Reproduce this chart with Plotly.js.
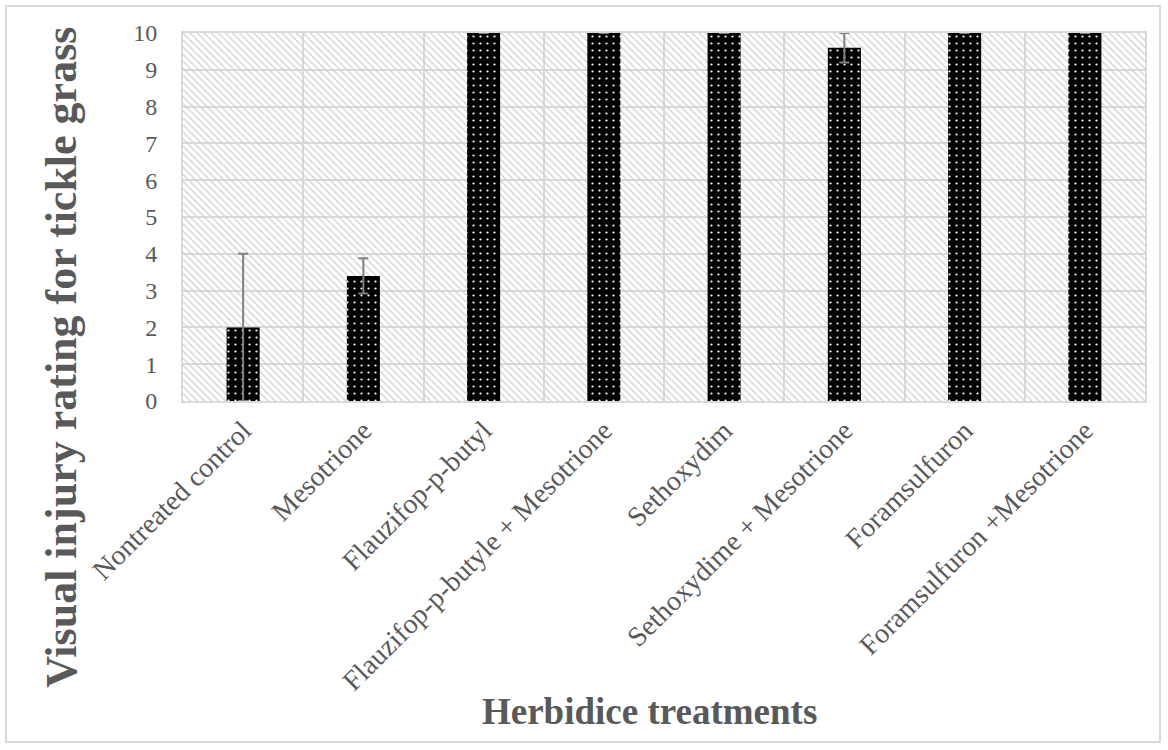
<!DOCTYPE html>
<html>
<head>
<meta charset="utf-8">
<script src="https://cdn.plot.ly/plotly-3.0.1.min.js"></script>
<style>
html,body{margin:0;padding:0;background:#fff;}
#frame{position:absolute;left:5px;top:5px;width:1156px;height:738px;border:2px solid #d9d9d9;box-sizing:border-box;}
#chart{position:absolute;left:0;top:0;width:1168px;height:750px;}
</style>
</head>
<body>
<div id="frame"></div>
<div id="chart"></div>
<script>
const categories = ["Nontreated control", "Mesotrione", "Flauzifop-p-butyl", "Flauzifop-p-butyle + Mesotrione", "Sethoxydim", "Sethoxydime + Mesotrione", "Foramsulfuron", "Foramsulfuron +Mesotrione"];
const ratings = [2, 3.4, 10, 10, 10, 9.6, 10, 10];
const errors = [2, 0.48, 0, 0, 0, 0.4, 0, 0];
const yTicks = [0, 1, 2, 3, 4, 5, 6, 7, 8, 9, 10];
const yMax = 10;

const background = {
  type: 'bar',
  x: categories,
  y: categories.map(() => yMax),
  width: 1,
  hoverinfo: 'skip',
  showlegend: false,
  marker: {
    color: 'rgba(0,0,0,0)',
    line: {width: 0},
    pattern: {shape: '\\', fgcolor: '#cfcfcf', bgcolor: 'rgba(0,0,0,0)', size: 5, solidity: 0.25, fillmode: 'replace'}
  }
};

const bars = {
  type: 'bar',
  x: categories,
  y: ratings,
  width: 0.275,
  showlegend: false,
  marker: {
    color: '#000000',
    line: {width: 0},
    pattern: {shape: '.', fgcolor: '#ffffff', bgcolor: '#000000', size: 7, solidity: 0.08, fillmode: 'replace'}
  },
  error_y: {type: 'data', array: errors, visible: true, color: '#808080', thickness: 2, width: 5}
};

const layout = {
  width: 1168, height: 750,
  margin: {l: 183, r: 23, t: 33, b: 349},
  paper_bgcolor: 'rgba(0,0,0,0)',
  plot_bgcolor: '#ffffff',
  barmode: 'overlay',
  font: {family: 'Liberation Serif, Times New Roman, serif', color: '#595959'},
  xaxis: {
    type: 'category',
    tickson: 'boundaries',
    showgrid: true, gridcolor: '#d9d9d9', gridwidth: 2,
    showline: true, linecolor: '#d9d9d9', linewidth: 2, mirror: true,
    ticks: '', tickangle: -45,
    tickfont: {size: 28, color: '#595959'},
    automargin: false
  },
  yaxis: {
    range: [0, yMax],
    tickvals: yTicks,
    showgrid: true, gridcolor: '#d9d9d9', gridwidth: 2,
    showline: true, linecolor: '#d9d9d9', linewidth: 2, mirror: true,
    zeroline: false,
    ticks: '', ticklabelstandoff: 19,
    tickfont: {size: 24, color: '#595959'},
    automargin: false
  },
  annotations: [
    {text: '<b>Visual injury rating for tickle grass</b>', textangle: -90, xref: 'paper', yref: 'paper',
     x: -0.1258, y: 0.12, xanchor: 'center', yanchor: 'middle', showarrow: false,
     font: {size: 44, color: '#595959', family: 'Liberation Serif, Times New Roman, serif'}},
    {text: '<b>Herbidice treatments</b>', xref: 'paper', yref: 'paper',
     x: 0.4854, y: -0.845, xanchor: 'center', yanchor: 'middle', showarrow: false,
     font: {size: 37, color: '#595959', family: 'Liberation Serif, Times New Roman, serif'}}
  ]
};

Plotly.newPlot('chart', [background, bars], layout, {displayModeBar: false, staticPlot: true});
</script>
</body>
</html>
